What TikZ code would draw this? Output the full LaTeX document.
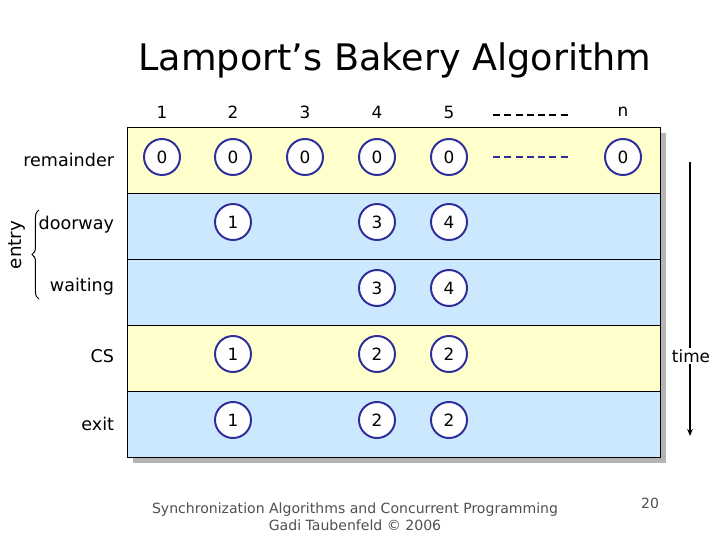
\documentclass[tikz,border=0pt]{standalone}
\usepackage{fontspec}
\setmainfont{DejaVu Sans}
\usetikzlibrary{arrows.meta, positioning, decorations.pathreplacing, calc}

\definecolor{rowyellow}{HTML}{FFFFCC}
\definecolor{rowblue}{HTML}{CCE8FF}
\definecolor{ticketblue}{HTML}{2E2E9A}
\definecolor{shadowgray}{HTML}{B4B4B4}
\definecolor{footgray}{HTML}{505050}

\tikzset{
  ticket/.style={draw=ticketblue, line width=1.4pt, circle, fill=white, minimum size=0.9cm, inner sep=0pt, font=\fontsize{12}{14}\selectfont},
  rowlabel/.style={anchor=east, font=\fontsize{12.5}{15}\selectfont},
  colhead/.style={font=\fontsize{12}{14}\selectfont},
  band/.style={draw=black, line width=0.6pt}
}

\begin{document}
\begin{tikzpicture}[x=0.025cm, y=-0.025cm]
\useasboundingbox (0,0) rectangle (720,540);

% title
\node[font=\fontsize{26}{31}\selectfont] (title) at (395,60) {Lamport’s Bakery Algorithm};

% shadow and rows
\fill[shadowgray] (133,133) rectangle (666,463);
\filldraw[band, fill=rowyellow] (127,127) rectangle (660,193);
\filldraw[band, fill=rowblue]   (127,193) rectangle (660,259);
\filldraw[band, fill=rowblue]   (127,259) rectangle (660,325);
\filldraw[band, fill=rowyellow] (127,325) rectangle (660,391);
\filldraw[band, fill=rowblue]   (127,391) rectangle (660,457);

% column heads
\foreach \i/\x in {1/162, 2/233, 3/305, 4/377, 5/449, n/623}
  \node[colhead] (h\i) at (\x,112) {\i};
\draw[line width=1.6pt, dash pattern=on 5pt off 3pt] (493,115) -- (570,115);

% row labels
\node[rowlabel] (lrem) at (119,160) {remainder};
\node[rowlabel] (ldoor) at (119,225) {doorway};
\node[rowlabel] (lwait) at (119,287) {waiting};
\node[rowlabel] (lcs) at (119,356) {CS};
\node[rowlabel] (lexit) at (119,424) {exit};
\draw[decorate, decoration={brace, amplitude=5pt}, line width=0.7pt] (39,299) -- (39,210);
\node[rotate=90, font=\fontsize{13}{15}\selectfont] (lentry) at (17,245) {entry};

% tickets
\foreach \x/\c in {162/1, 233/2, 305/3, 377/4, 449/5, 623/n}
  \node[ticket] (r\c) at (\x,157) {0};
\draw[ticketblue, line width=1.6pt, dash pattern=on 5pt off 3pt] (493,157) -- (570,157);
\node[ticket] (d2) at (233,222) {1};
\node[ticket] (d4) at (377,222) {3};
\node[ticket] (d5) at (449,222) {4};
\node[ticket] (w4) at (377,288) {3};
\node[ticket] (w5) at (449,288) {4};
\node[ticket] (c2) at (233,354) {1};
\node[ticket] (c4) at (377,354) {2};
\node[ticket] (c5) at (449,354) {2};
\node[ticket] (e2) at (233,420) {1};
\node[ticket] (e4) at (377,420) {2};
\node[ticket] (e5) at (449,420) {2};

% time arrow
\node[font=\fontsize{12}{14}\selectfont, inner sep=1pt] (time) at (691,356) {time};
\coordinate (ttop) at (690,162);
\coordinate (tbot) at (690,436);
\draw[line width=0.9pt] (ttop) -- (ttop |- time.north);
\draw[line width=0.9pt, -{Stealth[length=5pt, width=4pt]}] (ttop |- time.south) -- (tbot);

% footer
\node[font=\fontsize{10}{12}\selectfont, text=footgray, align=center] (foot) at (355,517) {Synchronization Algorithms and Concurrent Programming\\Gadi Taubenfeld © 2006};
\node[font=\fontsize{10}{12}\selectfont, text=footgray] (page) at (650,503) {20};
\end{tikzpicture}
\end{document}
